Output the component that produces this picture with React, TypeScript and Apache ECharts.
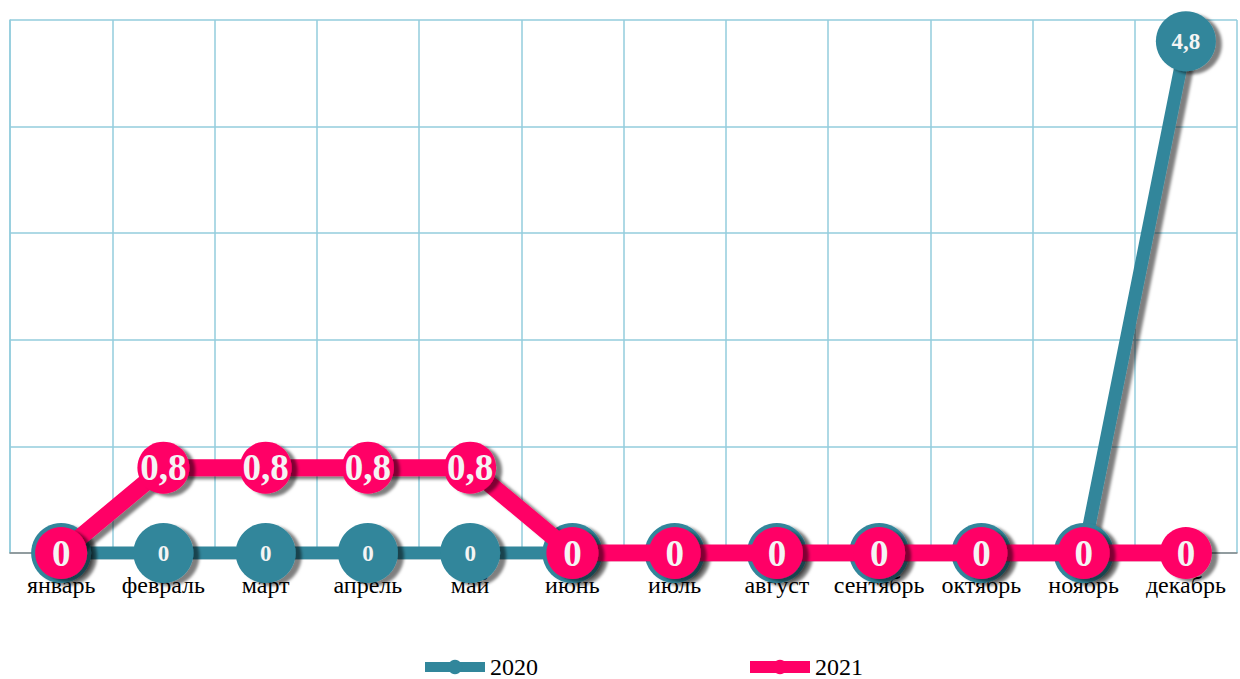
import React, { useEffect, useRef } from "react";
import * as echarts from "echarts";

const categories = ["январь", "февраль", "март", "апрель", "май", "июнь", "июль", "август", "сентябрь", "октябрь", "ноябрь", "декабрь"];
const values2020 = [0, 0, 0, 0, 0, 0, 0, 0, 0, 0, 0, 4.8];
const values2021 = [0, 0.8, 0.8, 0.8, 0.8, 0, 0, 0, 0, 0, 0, 0];
const seriesNames = ["2020", "2021"];
const colors = ["#31869b", "#ff0066"];

const FONT = "Liberation Serif";
const fmt = (p: any) => String(p.value).replace(".", ",");

export default function App() {
  const ref = useRef<HTMLDivElement>(null);
  useEffect(() => {
    document.body.style.margin = "0";
    const chart = echarts.init(ref.current!, null, { renderer: "svg" });
    const shadow = { shadowColor: "rgba(0,0,0,0.5)", shadowBlur: 3, shadowOffsetX: 6, shadowOffsetY: 3 };
    const noShadow = { shadowBlur: 0, shadowOffsetX: 0, shadowOffsetY: 0, shadowColor: "transparent" };
    chart.setOption({
      animation: false,
      grid: { left: 10, right: 3, top: 20, bottom: 126, containLabel: false },
      legend: {
        top: 655,
        left: 420,
        itemGap: 206,
        itemWidth: 60,
        itemHeight: 18,
        padding: 0,
        textStyle: { fontFamily: FONT, fontSize: 24, color: "#000", lineHeight: 22 },
        data: [
          { name: seriesNames[0], lineStyle: { width: 10, color: colors[0], ...noShadow }, itemStyle: { color: colors[0], ...noShadow } },
          { name: seriesNames[1], lineStyle: { width: 12, color: colors[1], ...noShadow }, itemStyle: { color: colors[1], ...noShadow } },
        ],
      },
      xAxis: {
        type: "category",
        data: categories,
        boundaryGap: true,
        axisLine: { lineStyle: { color: "#888", width: 1.5 } },
        axisTick: { show: false },
        splitLine: { show: true, lineStyle: { color: "#93cddd", width: 1.5 } },
        axisLabel: { fontFamily: FONT, fontSize: 24, color: "#000", margin: 20, interval: 0 },
      },
      yAxis: {
        type: "value",
        min: 0,
        max: 5,
        interval: 1,
        axisLabel: { show: false },
        axisLine: { show: true, lineStyle: { color: "#93cddd", width: 1.5 } },
        axisTick: { show: false },
        splitLine: { show: true, lineStyle: { color: "#93cddd", width: 1.5 } },
      },
      series: [
        {
          name: seriesNames[0],
          type: "line",
          data: values2020,
          symbol: "circle",
          symbolSize: 60,
          z: 2,
          lineStyle: { color: colors[0], width: 13, ...shadow },
          itemStyle: { color: colors[0], ...shadow },
          label: {
            show: true,
            position: "inside",
            formatter: fmt,
            color: "#f4f4f4",
            fontFamily: FONT,
            fontWeight: "bold",
            fontSize: 23,
          },
        },
        {
          name: seriesNames[1],
          type: "line",
          data: values2021,
          symbol: "circle",
          symbolSize: 52,
          z: 3,
          lineStyle: { color: colors[1], width: 17, ...shadow },
          itemStyle: { color: colors[1], ...shadow },
          label: {
            show: true,
            position: "inside",
            formatter: fmt,
            color: "#f4f4f4",
            fontFamily: FONT,
            fontWeight: "bold",
            fontSize: 37,
          },
        },
      ],
    });
    return () => chart.dispose();
  }, []);
  return <div ref={ref} style={{ width: 1240, height: 679 }} />;
}
